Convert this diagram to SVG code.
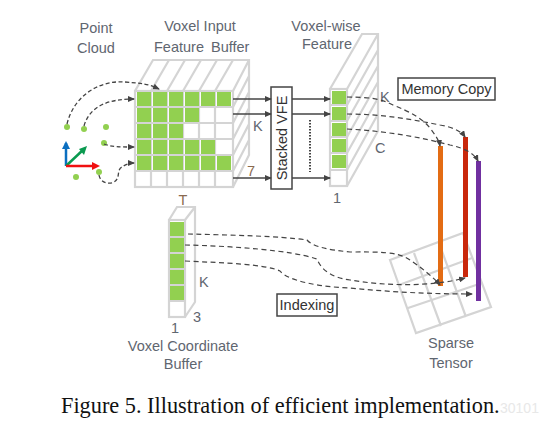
<svg xmlns="http://www.w3.org/2000/svg" width="550" height="427" viewBox="0 0 550 427">
<style>
text{font-family:"Liberation Sans",Arial,sans-serif;font-size:14.5px;fill:#5f6670}
.m{text-anchor:middle}
.br{fill:#8a6a50}
.g{fill:none;stroke:#d4d4d4;stroke-width:2.2}
.c{fill:#92d050}
.d{fill:none;stroke:#444;stroke-width:1.2;stroke-dasharray:5 3.5}
.a{fill:none;stroke:#444;stroke-width:1.3;marker-end:url(#ah)}
.box{fill:#fff;stroke:#444;stroke-width:1.5}
.p{fill:#92d050}
</style>
<defs>
<marker id="ah" markerUnits="userSpaceOnUse" markerWidth="7" markerHeight="6" refX="6" refY="3" orient="auto"><path d="M0 0L7 3L0 6z" fill="#444"/></marker>
</defs>
<rect width="550" height="427" fill="#fff"/>
<g id="point-cloud">
<text class="m" x="96" y="33">Point</text><text class="m" x="96" y="53">Cloud</text>
<circle class="p" cx="67" cy="127" r="3"/><circle class="p" cx="84" cy="129" r="3"/><circle class="p" cx="106" cy="127" r="3"/><circle class="p" cx="104" cy="143" r="3"/><circle class="p" cx="99" cy="172" r="3"/><circle class="p" cx="76" cy="177" r="3"/>
<path d="M66 166V143" stroke="#0b6fc0" stroke-width="2.5" fill="none"/><path d="M66 141l-4 8h8z" fill="#0b6fc0"/>
<path d="M66 166L84 149" stroke="#0a9a50" stroke-width="2.5" fill="none"/><path d="M87 146l-8 3 5 6z" fill="#0a9a50"/>
<path d="M66 166H93" stroke="#f01010" stroke-width="2.5" fill="none"/><path d="M100 166l-8-4v8z" fill="#f01010"/>
</g>
<g id="voxel-input">
<text class="m" x="200" y="31">Voxel Input</text><text x="154" y="52">Feature</text><text x="211" y="52">Buffer</text>
<path class="g" d="M135 91L153 60H249V155L233 187M151 91L169 60M167 91L185 60M183 91L201 60M199 91L217 60M215 91L233 60M233 91L249 60M233 107L249 76M233 123L249 92M233 139L249 108M233 155L249 124M233 171L249 140"/>
<rect class="g" x="135" y="91" width="98" height="96"/>
<path class="g" d="M151 91V187M167 91V187M183 91V187M199 91V187M215 91V187M135 107H233M135 123H233M135 139H233M135 155H233M135 171H233"/>
<path class="c" d="M137 92h14v14h-14zM153 92h14v14h-14zM169 92h14v14h-14zM185 92h14v14h-14zM201 92h14v14h-14zM217 92h14v14h-14zM137 108h14v14h-14zM153 108h14v14h-14zM169 108h14v14h-14zM185 108h14v14h-14zM137 124h14v14h-14zM153 124h14v14h-14zM169 124h14v14h-14zM137 140h14v14h-14zM153 140h14v14h-14zM169 140h14v14h-14zM185 140h14v14h-14zM201 140h14v14h-14zM137 156h14v14h-14zM153 156h14v14h-14zM169 156h14v14h-14zM185 156h14v14h-14zM201 156h14v14h-14zM217 156h14v14h-14z"/>
<text x="253" y="131">K</text><text class="br" x="247" y="176">7</text><text class="br m" x="183" y="205">T</text>
</g>
<g id="stacked-vfe">
<rect class="box" x="271" y="87" width="21" height="102"/>
<text class="m" transform="translate(286.500 138) rotate(-90)" style="fill:#333">Stacked VFE</text>
</g>
<g id="voxel-wise">
<text class="m" x="326" y="31">Voxel-wise</text><text class="m" x="327" y="49">Feature</text>
<path class="g" d="M330 89L362 34H378V131L347 186M347 89L378 34M347 105L378 50M347 121L378 66M347 137L378 82M347 153L378 98M347 170L378 114"/>
<rect class="g" x="330" y="89" width="17" height="97"/>
<path class="g" d="M330 105H347M330 121H347M330 137H347M330 153H347M330 170H347"/>
<path class="c" d="M332 91h14v13h-14zM332 107h14v13h-14zM332 123h14v13h-14zM332 139h14v13h-14zM332 155h14v13h-14z"/>
<text x="380" y="102">K</text><text x="375" y="153">C</text><text class="m" x="337" y="203">1</text>
</g>
<g id="memory-copy"><rect class="box" x="398" y="78" width="97" height="22"/><text class="m" x="446.500" y="94" style="fill:#333">Memory Copy</text></g>
<g id="coordinate-buffer">
<path class="g" d="M169 220L177 207H195V302L185 317M185 220L195 207"/>
<rect class="g" x="169" y="220" width="16" height="97"/>
<path class="g" d="M169 237H185M169 253H185M169 269H185M169 285H185M169 301H185"/>
<path class="c" d="M170 222h14v14h-14zM170 238h14v14h-14zM170 254h14v14h-14zM170 270h14v14h-14zM170 286h14v14h-14z"/>
<text x="199" y="287">K</text><text x="193" y="322">3</text><text class="m" x="175" y="333">1</text>
<text class="m" x="183" y="351">Voxel Coordinate</text><text class="m" x="183" y="369">Buffer</text>
</g>
<g id="indexing"><rect class="box" x="277" y="294" width="60" height="22"/><text class="m" x="307" y="310" style="fill:#333">Indexing</text></g>
<g id="sparse-tensor">
<path class="g" d="M390 260L463 233L491 307L416 333ZM399 285L472 258M408 308L482 283M414 253L441 326M439 243L466 317"/>
<rect x="438" y="146" width="5" height="140" fill="#e36c14"/>
<rect x="463" y="137" width="5" height="140" fill="#c9280c"/>
<rect x="476" y="161" width="5" height="140" fill="#7030a0"/>
<text class="m" x="451" y="348">Sparse</text><text class="m" x="451" y="368">Tensor</text>
</g>
<g id="connectors">
<path class="a" style="stroke-dasharray:4 2.5" d="M67 124C74 95 100 80 125 82S150 85 159 89"/>
<path class="a" style="stroke-dasharray:4 2.5" d="M84 126C90 105 110 99 134 99"/>
<path class="a" style="stroke-dasharray:4 2.5" d="M104 144C112 147 120 147 134 147"/>
<path class="a" style="stroke-dasharray:4 2.5" d="M99 175C100 182 108 185 114 182C121 178 116 170 122 167C125 165 129 163 134 163"/>
<path class="a" d="M233 99H271"/><path class="a" d="M233 114H271"/><path class="a" d="M233 178H271"/>
<path class="a" d="M292 99H330"/><path class="a" d="M292 114H330"/><path class="a" d="M292 178H330"/>
<path d="M310 120V172" stroke="#444" stroke-width="2" stroke-dasharray="1.5 1.5" fill="none"/>
<path class="d" style="marker-end:url(#ah)" d="M347 97C370 97 382 99 393 105C410 112 422 118 430 128C435 135 439 140 440 146"/>
<path class="d" style="marker-end:url(#ah)" d="M347 114C380 114 410 119 440 125C452 127 461 131 465 137"/>
<path class="d" style="marker-end:url(#ah)" d="M347 129C385 131 420 137 450 145C464 148 474 153 478 161"/>
<path class="d" style="marker-end:url(#ah)" d="M188 234C230 235 280 236 307 240C313 247 330 250 350 252C375 252 398 251 410 260C422 268 434 278 440 285"/>
<path class="d" style="marker-end:url(#ah)" d="M185 245C230 246 290 250 317 259C322 272 335 278 350 280C385 286 430 287 465 278"/>
<path class="d" style="marker-end:url(#ah)" d="M185 261C225 263 265 264 280 271C288 281 320 287 350 288C390 292 430 294 472 294"/>
</g>
<text x="61" y="413" style="font-family:'Liberation Serif','Times New Roman',serif;font-size:22.300px;fill:#111">Figure 5. Illustration of efficient implementation.</text>
<text x="500" y="413" style="font-size:14px;fill:#e8e8e8">30101</text>
</svg>
